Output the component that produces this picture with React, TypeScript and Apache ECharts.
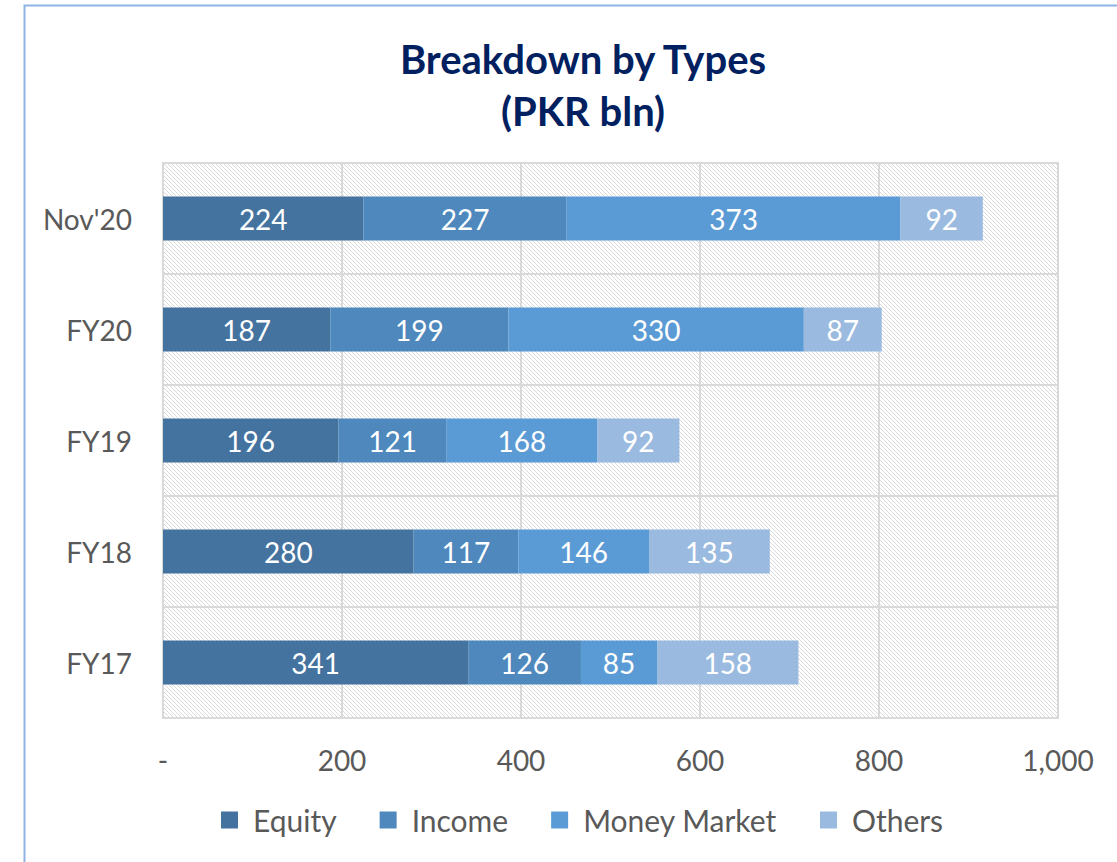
import React, { useEffect, useRef } from "react";
import * as echarts from "echarts";

const categories = ["FY17", "FY18", "FY19", "FY20", "Nov'20"];
const seriesNames = ["Equity", "Income", "Money Market", "Others"];
const equity = [341, 280, 196, 187, 224];
const income = [126, 117, 121, 199, 227];
const moneyMarket = [85, 146, 168, 330, 373];
const others = [158, 135, 92, 87, 92];
const colors = ["#44739F", "#4E88BD", "#5B9BD5", "#9ABAE0"];

const FONT = "Lato, 'Open Sans', sans-serif";

function makeHatch(): HTMLCanvasElement {
  const c = document.createElement("canvas");
  c.width = 8;
  c.height = 8;
  const ctx = c.getContext("2d")!;
  ctx.fillStyle = "#ffffff";
  ctx.fillRect(0, 0, 8, 8);
  ctx.fillStyle = "#dadada";
  for (let i = 0; i < 8; i++) {
    ctx.fillRect(i, i, 1, 1);
    ctx.fillRect(i, (i + 4) % 8, 1, 1);
  }
  return c;
}

export default function App() {
  const ref = useRef<HTMLDivElement>(null);
  useEffect(() => {
    document.body.style.margin = "0";
    const chart = echarts.init(ref.current!, null, { renderer: "svg" });
    const data = [equity, income, moneyMarket, others];
    chart.setOption({
      animation: false,
      backgroundColor: "#ffffff",
      title: {
        text: "Breakdown by Types\n(PKR bln)",
        left: 578,
        textAlign: "center",
        top: 28,
        textStyle: {
          fontFamily: FONT,
          fontSize: 40,
          fontWeight: "bold",
          color: "#002060",
          lineHeight: 52,
        },
      },
      graphic: [
        {
          type: "rect",
          shape: { x: 24.5, y: 5.5, width: 2000, height: 2000 },
          style: { fill: "none", stroke: "#8DB4E2", lineWidth: 2 },
          silent: true,
        },
      ],
      legend: {
        bottom: 22,
        left: 216,
        itemWidth: 17,
        itemHeight: 17,
        itemGap: 43,
        icon: "rect",
        textStyle: { fontFamily: FONT, fontSize: 30, color: "#595959", padding: [0, 0, 0, 10] },
        data: seriesNames,
      },
      grid: {
        left: 163,
        right: 59,
        top: 163,
        bottom: 144,
        show: true,
        backgroundColor: { image: makeHatch(), repeat: "repeat" },
        borderColor: "#d9d9d9",
        borderWidth: 2,
      },
      xAxis: {
        type: "value",
        min: 0,
        max: 1000,
        interval: 200,
        axisLine: { show: false },
        axisTick: { show: false },
        splitLine: { lineStyle: { color: "#d9d9d9", width: 2 } },
        axisLabel: {
          margin: 28,
          fontFamily: FONT,
          fontSize: 28,
          color: "#595959",
          formatter: (v: number) => (v === 0 ? "-" : v.toLocaleString("en-US")),
        },
      },
      yAxis: {
        type: "category",
        data: categories,
        axisLine: { show: false },
        axisTick: { show: false },
        splitLine: { show: true, lineStyle: { color: "#d9d9d9", width: 2 } },
        axisLabel: {
          margin: 31,
          fontFamily: FONT,
          fontSize: 28,
          color: "#595959",
        },
      },
      series: seriesNames.map((name, i) => ({
        name,
        type: "bar",
        stack: "total",
        data: data[i],
        barWidth: 44,
        itemStyle: { color: colors[i] },
        label: {
          show: true,
          position: "inside",
          color: "#ffffff",
          fontFamily: FONT,
          fontSize: 28,
        },
      })),
    });
    return () => chart.dispose();
  }, []);
  return (
    <div
      ref={ref}
      style={{ position: "absolute", left: 0, top: 0, width: 1117, height: 862 }}
    />
  );
}
